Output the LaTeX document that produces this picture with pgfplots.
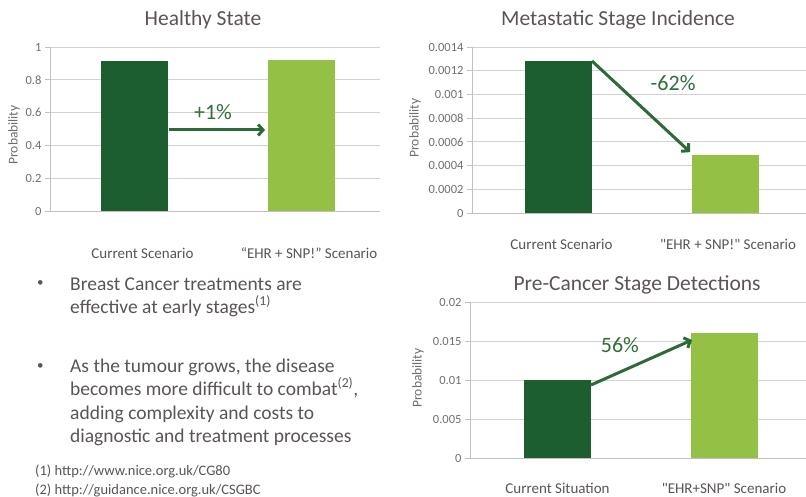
\documentclass[border=0pt]{standalone}
\usepackage{fontspec}
\setmainfont{Carlito}
\usepackage{pgfplots}
\pgfplotsset{compat=1.18}
\usetikzlibrary{arrows.meta}
\definecolor{dkg}{HTML}{1D5E30}
\definecolor{ltg}{HTML}{93C045}
\definecolor{arrc}{HTML}{2C6B37}
\definecolor{pctc}{HTML}{2E6F3A}
\definecolor{titc}{HTML}{5C5454}
\definecolor{txtc}{HTML}{5A5454}
\definecolor{tickc}{HTML}{726C6C}
\definecolor{gridc}{HTML}{D6D0D0}
\definecolor{axc}{HTML}{C4BEBE}
\newcommand{\dq}{{\addfontfeature{Ligatures=TeXOff}"}}
\pgfplotsset{
  common/.style={
    scale only axis,
    anchor=south west,
    axis x line*=bottom, axis y line*=left,
    axis line style={axc, line width=0.8pt},
    ymajorgrids, grid style={gridc, line width=0.8pt},
    xtick={0,1}, xtick style={draw=none},
    ytick style={axc, line width=0.8pt},
    tick align=outside, major tick length=5pt,
    scaled y ticks=false,
    tick label style={text=tickc, font=\fontsize{12.5}{14}\selectfont},
    xticklabel style={text=txtc, font=\fontsize{15}{17}\selectfont, anchor=base},
    /pgf/number format/assume math mode=true,
    clip=false,
  },
  bar1/.style={ybar, bar width=67pt, bar shift=0pt, fill=dkg, draw=none},
  bar2/.style={ybar, bar width=67pt, bar shift=0pt, fill=ltg, draw=none},
}
\tikzset{
  arr/.style={arrc, line width=3pt, -{Straight Barb[length=5pt,width=11pt]}},
  pct/.style={text=pctc, font=\fontsize{22}{24}\selectfont},
}
\begin{document}
\begin{tikzpicture}
\useasboundingbox (0pt,0pt) rectangle (806pt,-497pt);

% ---------- Healthy State ----------
\begin{axis}[common, at={(50pt,-211pt)}, width=330pt, height=164pt,
  xmin=-0.5075, xmax=1.474, ymin=0, ymax=1,
  ytick={0,0.2,0.4,0.6,0.8,1}, yticklabels={0,0.2,0.4,0.6,0.8,1},
  xticklabels={Current Scenario, “EHR + SNP!” Scenario},
  xticklabel style={xshift=8pt, yshift=-42pt}]
\addplot[bar1] coordinates {(0,0.915)};
\addplot[bar2] coordinates {(1,0.92)};
\draw[arr] (axis cs:0.207,0.494) -- (axis cs:0.784,0.494);
\node[pct] at (axis cs:0.471,0.604) {+1\%};
\end{axis}

% ---------- Metastatic Stage Incidence ----------
\begin{axis}[common, at={(472pt,-213pt)}, width=334pt, height=166pt,
  xmin=-0.5195, xmax=1.486, ymin=0, ymax=0.0014,
  ytick={0,0.0002,0.0004,0.0006,0.0008,0.001,0.0012,0.0014},
  yticklabels={0,0.0002,0.0004,0.0006,0.0008,0.001,0.0012,0.0014},
  xticklabels={Current Scenario, \dq EHR + SNP!\dq\ Scenario},
  xticklabel style={xshift=3pt, yshift=-31pt}]
\addplot[bar1] coordinates {(0,0.00128)};
\addplot[bar2] coordinates {(1,0.00049)};
\draw[arr] (axis cs:0.201,0.001282) -- (axis cs:0.79,0.000514);
\node[pct] at (axis cs:0.688,0.001096) {-62\%};
\end{axis}

% ---------- Pre-Cancer Stage Detections ----------
\begin{axis}[common, at={(470pt,-458pt)}, width=336pt, height=156pt,
  xmin=-0.5255, xmax=1.4925, ymin=0, ymax=0.02,
  ytick={0,0.005,0.01,0.015,0.02},
  yticklabels={0,0.005,0.01,0.015,0.02},
  xticklabels={Current Situation, \dq EHR+SNP\dq\ Scenario},
  xticklabel style={yshift=-30pt}]
\addplot[bar1] coordinates {(0,0.01)};
\addplot[bar2] coordinates {(1,0.016)};
\draw[arr] (axis cs:0.201,0.00936) -- (axis cs:0.808,0.01513);
\node[pct] at (axis cs:0.375,0.01449) {56\%};
\end{axis}

% titles
\node[text=titc, font=\fontsize{21.5}{24}\selectfont] at (203pt,-20pt) {Healthy State};
\node[text=titc, font=\fontsize{21.5}{24}\selectfont] at (618pt,-20pt) {Metastatic Stage Incidence};
\node[text=titc, font=\fontsize{21.5}{24}\selectfont] at (637pt,-285pt) {Pre-Cancer Stage Detections};

% y labels
\node[text=tickc, rotate=90, font=\fontsize{13.5}{15}\selectfont] at (14pt,-135pt) {Probability};
\node[text=tickc, rotate=90, font=\fontsize{13.5}{15}\selectfont] at (415pt,-128pt) {Probability};
\node[text=tickc, rotate=90, font=\fontsize{13.5}{15}\selectfont] at (418pt,-378pt) {Probability};

% bullet text
\begin{scope}[every node/.style={text=txtc, font=\fontsize{19.5}{22}\selectfont, anchor=base west, inner sep=0pt}]
\node[font=\fontsize{13}{14}\selectfont] at (37pt,-287pt) {•};
\node at (70pt,-290pt) {Breast Cancer treatments are};
\node at (70pt,-313.5pt) {effective at early stages\textsuperscript{(1)}};
\node[font=\fontsize{13}{14}\selectfont] at (37pt,-369pt) {•};
\node at (70pt,-372pt) {As the tumour grows, the disease};
\node at (70pt,-395.5pt) {becomes more difficult to combat\textsuperscript{(2)},};
\node at (70pt,-419pt) {adding complexity and costs to};
\node at (70pt,-442.5pt) {diagnostic and treatment processes};
\end{scope}
\begin{scope}[every node/.style={text=txtc, font=\fontsize{14.5}{16}\selectfont, anchor=base west, inner sep=0pt}]
\node at (35pt,-475pt) {(1) http://www.nice.org.uk/CG80};
\node at (35pt,-494pt) {(2) http://guidance.nice.org.uk/CSGBC};
\end{scope}
\end{tikzpicture}
\end{document}
